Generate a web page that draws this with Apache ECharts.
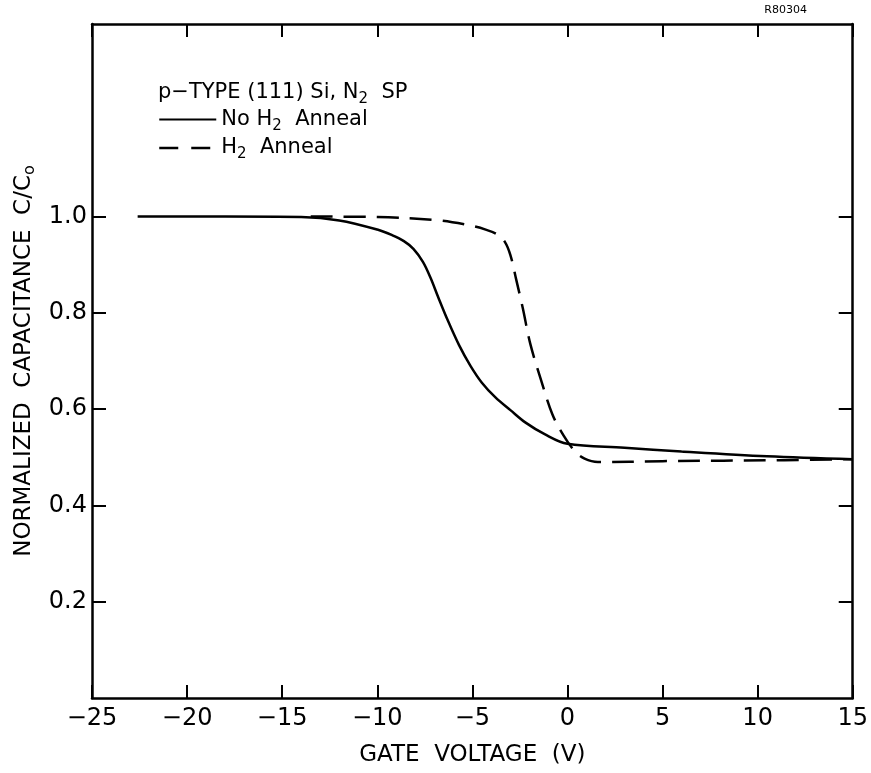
<!DOCTYPE html>
<html>
<head>
<meta charset="utf-8">
<script src="https://cdn.jsdelivr.net/npm/echarts@6/dist/echarts.min.js"></script>
<style>
  html, body { margin: 0; padding: 0; background: #fff; }
  #chart { width: 871px; height: 773px; }
</style>
</head>
<body>
<div id="chart"></div>
<script>
// gate voltage (V) vs normalized capacitance C/Co
var noAnnealV = [-22.6, -18, -14, -12, -10, -9.2, -8.6, -8.1, -7.6, -7.2, -6.8, -6.3, -5.7, -5.1, -4.5, -3.8, -3.0, -2.2, -1.2, 0, 3, 6, 10.5, 15];
var noAnnealC = [1.0, 1.0, 0.999, 0.992, 0.973, 0.961, 0.949, 0.933, 0.906, 0.873, 0.833, 0.785, 0.733, 0.69, 0.655, 0.625, 0.598, 0.572, 0.548, 0.528, 0.52, 0.512, 0.502, 0.496];

var annealV = [-13.5, -10, -7, -5.3, -4.3, -3.7, -3.3, -3.0, -2.7, -2.35, -1.95, -1.4, -0.8, -0.2, 0.4, 0.9, 1.6, 5, 11.4, 15];
var annealC = [1.0, 0.999, 0.993, 0.983, 0.973, 0.963, 0.948, 0.92, 0.87, 0.81, 0.735, 0.662, 0.59, 0.545, 0.512, 0.497, 0.49, 0.492, 0.494, 0.496];

var yTicks = [0.2, 0.4, 0.6, 0.8, 1.0];

function pairs(xs, ys) {
  return xs.map(function (x, i) { return [x, ys[i]]; });
}

var font = 'DejaVu Sans';
var subStyle = { fontFamily: font, fontSize: 15, color: '#000', lineHeight: 12, verticalAlign: 'bottom' };
var mainStyle = { fontFamily: font, fontSize: 21, color: '#000', lineHeight: 28, fontWeight: 'normal' };

var chart = echarts.init(document.getElementById('chart'));

var option = {
  backgroundColor: '#fff',
  animation: false,
  title: {
    text: '{a|p\u2212TYPE (111) Si, N}{s|2}{a|  SP}',
    left: 153,
    top: 74,
    textStyle: { fontWeight: 'normal', rich: { a: mainStyle, s: subStyle } }
  },
  graphic: [{
    type: 'text',
    right: 64,
    top: 5,
    style: { text: 'R80304', font: '11px "DejaVu Sans"', fill: '#000' }
  }],
  legend: {
    orient: 'vertical',
    left: 158,
    top: 109,
    padding: 0,
    itemWidth: 57,
    itemHeight: 14,
    itemGap: 4,
    itemStyle: { opacity: 0 },
    data: [
      { name: 'noAnneal', lineStyle: { width: 2 } },
      { name: 'anneal', lineStyle: { width: 2.5, type: [19, 13] } }
    ],
    formatter: function (name) {
      if (name === 'noAnneal') return '{a|No H}{s|2}{a|  Anneal}';
      return '{a|H}{s|2}{a|  Anneal}';
    },
    textStyle: { rich: { a: mainStyle, s: subStyle } }
  },
  grid: { left: 92, right: 18, top: 24, bottom: 75 },
  xAxis: [{
    type: 'value',
    min: -25, max: 15, interval: 5,
    name: 'GATE  VOLTAGE  (V)',
    nameLocation: 'middle',
    nameGap: 46,
    nameTextStyle: { fontFamily: font, fontSize: 23, color: '#000' },
    axisLine: { onZero: false, lineStyle: { color: '#000', width: 2.5 } },
    axisTick: { inside: true, length: 13, lineStyle: { color: '#000', width: 2 } },
    axisLabel: {
      margin: 9, fontFamily: font, fontSize: 24, color: '#000',
      formatter: function (v) { return String(v).replace('-', '\u2212'); }
    },
    splitLine: { show: false }
  }, {
    type: 'value', position: 'top',
    min: -25, max: 15, interval: 5,
    axisLine: { show: true, onZero: false, lineStyle: { color: '#000', width: 2.5 } },
    axisTick: { inside: true, length: 13, lineStyle: { color: '#000', width: 2 } },
    axisLabel: { show: false },
    splitLine: { show: false }
  }],
  yAxis: [{
    type: 'value',
    min: 0, max: 1.4, interval: 0.2,
    name: '{a|NORMALIZED  CAPACITANCE  C/C}{s|o}',
    nameLocation: 'middle',
    nameGap: 46,
    nameTextStyle: {
      rich: {
        a: { fontFamily: font, fontSize: 23, color: '#000', lineHeight: 28 },
        s: { fontFamily: font, fontSize: 16, color: '#000', lineHeight: 12, verticalAlign: 'bottom' }
      }
    },
    axisLine: { show: true, onZero: false, lineStyle: { color: '#000', width: 2.5 } },
    axisTick: { inside: true, length: 14, lineStyle: { color: '#000', width: 2 }, customValues: yTicks },
    axisLabel: {
      margin: 5, fontFamily: font, fontSize: 24, color: '#000',
      customValues: yTicks,
      formatter: function (v) { return v.toFixed(1); }
    },
    splitLine: { show: false }
  }, {
    type: 'value', position: 'right',
    min: 0, max: 1.4, interval: 0.2,
    axisLine: { show: true, onZero: false, lineStyle: { color: '#000', width: 2.5 } },
    axisTick: { inside: true, length: 14, lineStyle: { color: '#000', width: 2 }, customValues: yTicks },
    axisLabel: { show: false },
    splitLine: { show: false }
  }],
  series: [{
    name: 'noAnneal',
    type: 'line',
    data: pairs(noAnnealV, noAnnealC),
    smooth: 0.35,
    symbol: 'none',
    lineStyle: { color: '#000', width: 2.5, type: 'solid' },
    itemStyle: { color: '#000' }
  }, {
    name: 'anneal',
    type: 'line',
    data: pairs(annealV, annealC),
    smooth: 0.35,
    symbol: 'none',
    lineStyle: { color: '#000', width: 2.5, type: [22, 11] },
    itemStyle: { color: '#000' }
  }]
};

chart.setOption(option);
</script>
</body>
</html>
